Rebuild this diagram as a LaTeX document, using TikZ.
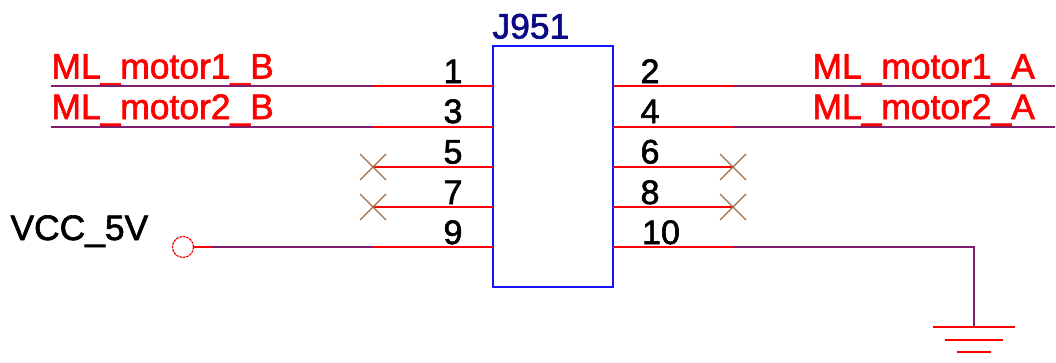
\documentclass[tikz,border=0pt]{standalone}
\usepackage{fontspec}
\setmainfont{Liberation Sans}
\newfontfamily\heavy{Liberation Sans}[FakeBold=1.8]
\definecolor{wirep}{RGB}{128,30,110}
\definecolor{pinred}{RGB}{255,0,0}
\definecolor{boxblue}{RGB}{20,20,255}
\definecolor{refnavy}{RGB}{10,10,135}
\definecolor{nc}{RGB}{160,110,70}
\tikzset{
  wire/.style={draw=wirep,line width=1.8pt},
  pinline/.style={draw=pinred,line width=1.8pt},
  ncmark/.style={draw=nc,line width=1.2pt},
  gnd/.style={draw=pinred,line width=1.8pt},
  lbl/.style={inner sep=0pt,outer sep=0pt,font=\heavy\fontsize{35.4}{35.4}\selectfont,anchor=base west},
  netlbl/.style={lbl,text=pinred},
  pinlbl/.style={inner sep=0pt,outer sep=0pt,font=\heavy\fontsize{34}{34}\selectfont,anchor=base,text=black},
}
\begin{document}
\begin{tikzpicture}[x=1pt,y=-1pt]
\useasboundingbox (0,0) rectangle (1056,362);
\fill[white] (0,0) rectangle (1056,362);
\coordinate (wl1) at (51,86);  \coordinate (pl1) at (373,86);  \coordinate (bl1) at (493,86);
\coordinate (wl3) at (51,127); \coordinate (pl3) at (373,127); \coordinate (bl3) at (493,127);
\coordinate (pl5) at (373,167);\coordinate (bl5) at (493,167);
\coordinate (pl7) at (373,207);\coordinate (bl7) at (493,207);
\coordinate (pl9) at (373,247);\coordinate (bl9) at (493,247);
\coordinate (wr2) at (1055,86);  \coordinate (pr2) at (733,86);  \coordinate (br2) at (613,86);
\coordinate (wr4) at (1055,127); \coordinate (pr4) at (733,127); \coordinate (br4) at (613,127);
\coordinate (pr6) at (733,167);\coordinate (br6) at (613,167);
\coordinate (pr8) at (733,207);\coordinate (br8) at (613,207);
\coordinate (pr10) at (733,247);\coordinate (br10) at (613,247);
\coordinate (gndtop) at (974,327);
\coordinate (corner) at (974,247);
\coordinate (vj) at (211,247);
% labels
\node[netlbl] (nb1) at (51.5,78.5) {ML\_motor1\_B};
\node[netlbl] (nb2) at (51.5,119) {ML\_motor2\_B};
\node[netlbl] (na1) at (812.5,78.5) {ML\_motor1\_A};
\node[netlbl] (na2) at (812.5,119) {ML\_motor2\_A};
\node[lbl,text=black] (vcc) at (10.5,240) {VCC\_5V};
\node[lbl,text=refnavy] (ref) at (492.5,38.5) {J951};
\foreach \n/\x/\y in {1/453/83,3/453/123,5/453/163.5,7/453/204,9/453/244,
  2/650/83,4/650/123,6/650/163.5,8/650/204,10/661/244}
  \node[pinlbl] (t\n) at (\x,\y) {\n};
% connector
\node[draw=boxblue,line width=1.8pt,minimum width=120pt,minimum height=241pt,inner sep=0pt,outer sep=0pt] (J) at (553,166.5) {};
\node[draw=pinred,dash pattern=on 2.6pt off 0.9pt,line width=1.2pt,circle,minimum size=21pt,inner sep=0pt,outer sep=0pt] (vc) at (183,247) {};
% wires
\draw[wire] (wl1) -- (pl1);
\draw[wire] (wl3) -- (pl3);
\draw[wire] (wr2) -- (pr2);
\draw[wire] (wr4) -- (pr4);
\draw[wire] (vj) -- (pl9);
\draw[wire] (pr10) -- (corner) -- (gndtop);
\draw[pinline] (vc.east) -- (vj);
% pins
\foreach \n in {1,3,5,7,9} \draw[pinline] (pl\n) -- (bl\n);
\foreach \n in {2,4,6,8,10} \draw[pinline] (pr\n) -- (br\n);
% no-connect marks
\foreach \p in {pl5,pl7,pr6,pr8}
  \draw[ncmark] ([shift={(-13,-13)}]\p) -- ([shift={(13,13)}]\p)
                ([shift={(-13,13)}]\p) -- ([shift={(13,-13)}]\p);
% ground
\draw[gnd] ([xshift=-41pt]gndtop) -- ([xshift=41pt]gndtop);
\draw[gnd] ([shift={(-29,13)}]gndtop) -- ([shift={(29,13)}]gndtop);
\draw[gnd] ([shift={(-17,25)}]gndtop) -- ([shift={(17,25)}]gndtop);
\end{tikzpicture}
\end{document}
